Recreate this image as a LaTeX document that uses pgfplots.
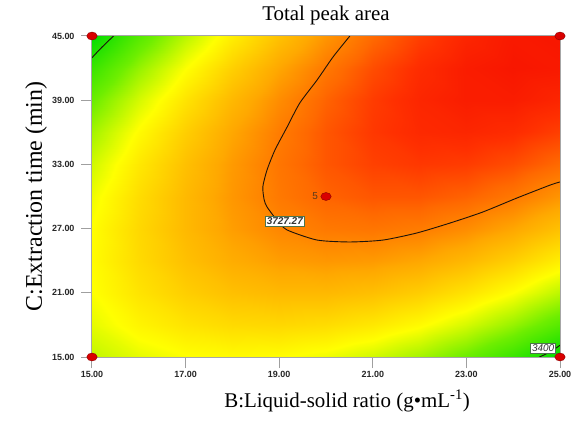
\documentclass[border=0pt]{standalone}
\usepackage{fontspec}
\setmainfont{Liberation Serif}
\newfontfamily\arial{Liberation Sans}
\usepackage{pgfplots}
\pgfplotsset{compat=1.18}
\usepackage{pgfplotstable}

% response surface, read off the colours / contours of the reference (B x C grid)
\pgfplotstableread{
B C area
15 15 3531.3
16 15 3556.4
17 15 3572.2
18 15 3578.5
19 15 3575.5
20 15 3563.1
21 15 3541.3
22 15 3510.2
23 15 3469.7
24 15 3419.8
25 15 3360.5
15 18 3556.4
16 18 3587.8
17 18 3609.8
18 18 3622.4
19 18 3625.7
20 18 3619.5
21 18 3604.0
22 18 3579.2
23 18 3544.9
24 18 3501.3
25 18 3448.3
15 21 3572.2
16 21 3609.8
17 21 3638.1
18 21 3656.9
19 21 3666.5
20 21 3666.6
21 21 3657.4
22 21 3638.7
23 21 3610.7
24 21 3573.4
25 21 3526.6
15 24 3578.5
16 24 3622.4
17 24 3656.9
18 24 3682.1
19 24 3697.9
20 24 3704.3
21 24 3701.3
22 24 3688.9
23 24 3667.2
24 24 3636.1
25 24 3595.6
15 27 3575.5
16 27 3625.7
17 27 3666.5
18 27 3697.9
19 27 3719.9
20 27 3732.6
21 27 3735.9
22 27 3729.8
23 27 3714.3
24 27 3689.5
25 27 3655.3
15 30 3563.1
16 30 3619.5
17 30 3666.6
18 30 3704.3
19 30 3732.6
20 30 3751.5
21 30 3761.1
22 30 3761.2
23 30 3752.0
24 30 3733.5
25 30 3705.5
15 33 3541.3
16 33 3604.0
17 33 3657.4
18 33 3701.3
19 33 3735.9
20 33 3761.1
21 33 3776.9
22 33 3783.3
23 33 3780.4
24 33 3768.1
25 33 3746.4
15 36 3510.2
16 36 3579.2
17 36 3638.7
18 36 3688.9
19 36 3729.8
20 36 3761.2
21 36 3783.3
22 36 3796.0
23 36 3799.3
24 36 3793.3
25 36 3777.9
15 39 3469.7
16 39 3544.9
17 39 3610.7
18 39 3667.2
19 39 3714.3
20 39 3752.0
21 39 3780.4
22 39 3799.3
23 39 3808.9
24 39 3809.2
25 39 3800.0
15 42 3419.8
16 42 3501.3
17 42 3573.4
18 42 3636.1
19 42 3689.5
20 42 3733.5
21 42 3768.1
22 42 3793.3
23 42 3809.2
24 42 3815.6
25 42 3812.7
15 45 3360.5
16 45 3448.3
17 45 3526.6
18 45 3595.6
19 45 3655.3
20 45 3705.5
21 45 3746.4
22 45 3777.9
23 45 3800.0
24 45 3812.7
25 45 3816.1
}\surfdata

\begin{document}
\begin{tikzpicture}
\begin{axis}[
    view={0}{90},
    scale only axis,
    width=468bp, height=321bp,
    xmin=15, xmax=25, ymin=15, ymax=45, zmin=3300, zmax=3900,
    xtick={15,17,...,25}, ytick={15,21,...,45}, ztick=\empty,
    tick pos=left, tick align=outside,
    major tick length=11bp,
    tick style={gray!75, line width=1bp},
    axis line style={gray!70, line width=1bp},
    axis on top,
    clip=false,
    tick label style={font=\arial\bfseries\fontsize{9}{10}\selectfont, text=black!85},
    yticklabel style={xshift=-3bp},
    colormap={gyr}{rgb255(0pt)=(0,220,0); rgb255(25pt)=(110,238,0); rgb255(47pt)=(255,255,0);
        rgb255(72pt)=(255,168,0); rgb255(85pt)=(255,105,0); rgb255(94pt)=(255,48,0); rgb255(100pt)=(248,22,0)},
    point meta min=3360, point meta max=3816,
    title={Total peak area},
    title style={font=\fontsize{21}{24}\selectfont, at={(axis description cs:0.5,1.03)}, anchor=base},
    xlabel={B:Liquid-solid ratio (g•mL\textsuperscript{-1})},
    xlabel style={font=\fontsize{21}{24}\selectfont, at={(axis description cs:0.545,-0.156)}, anchor=base},
    ylabel={C:Extraction time (min)},
    ylabel style={font=\fontsize{24}{28}\selectfont, at={(axis description cs:-0.107,0.5)}, anchor=base},
    /pgf/number format/.cd, fixed, fixed zerofill, precision=2, assume math mode=true
]
\addplot3[surf, shader=interp, mesh/cols=11, mesh/rows=11] table[x=B, y=C, z=area] {\surfdata};

% contour 3727.27
\addplot3[black!85!brown, line width=0.9bp, smooth, tension=0.4] coordinates {
    (20.51,45,3850) (20.15,43.04,3850) (19.81,40.89,3850) (19.44,38.74,3850) (19.17,36.50,3850)
    (18.91,34.35,3850) (18.74,32.48,3850) (18.65,30.89,3850) (18.68,29.67,3850) (18.74,29.02,3850)
    (18.95,27.80,3850) (19.17,26.87,3850) (19.81,25.93,3850) (20.51,25.75,3850) (21.22,25.93,3850)
    (21.94,26.59,3850) (22.65,27.52,3850) (23.35,28.55,3850) (24.08,29.86,3850) (24.79,31.07,3850)
    (25.0,31.36,3850)
};
% contour 3400
\addplot3[black!85!brown, line width=0.9bp, smooth] coordinates {
    (15,42.97,3850) (15.2,43.9,3850) (15.46,45,3850)
};
\addplot3[black!85!brown, line width=0.9bp, smooth] coordinates {
    (24.56,15,3850) (24.8,15.5,3850) (25,16.1,3850)
};

% design points
\addplot3[only marks, mark=*, mark size=4bp,
    mark options={fill=red!85!black, draw=red!55!black, line width=0.4bp, xscale=1.3}]
    coordinates {(15,15,3850) (15,45,3850) (25,45,3850) (25,15,3850) (20,30,3850)};

\node[font=\arial\fontsize{10}{12}\selectfont, text=black!55!brown, anchor=east, inner sep=0pt, xshift=-8bp]
    at (axis cs:20,30,3850) {5};
\node[fill=white, draw=black!60!green!40!gray, line width=0.6bp, inner sep=1.3bp,
    font=\arial\itshape\bfseries\fontsize{10}{11}\selectfont, text=black!80]
    at (axis cs:19.12,27.66,3850) {3727.27};
\node[fill=white, draw=black!60!green!40!gray, line width=0.6bp, inner sep=1.3bp,
    font=\arial\itshape\fontsize{10}{11}\selectfont, text=black!80]
    at (axis cs:24.64,15.8,3850) {3400};

\coordinate (ll) at (axis description cs:0,0);
\coordinate (ur) at (axis description cs:1,1);
\end{axis}
\pgfresetboundingbox
\path[use as bounding box] ([shift={(-92bp,-70bp)}]ll) rectangle ([shift={(14bp,36bp)}]ur);
\end{tikzpicture}
\end{document}
